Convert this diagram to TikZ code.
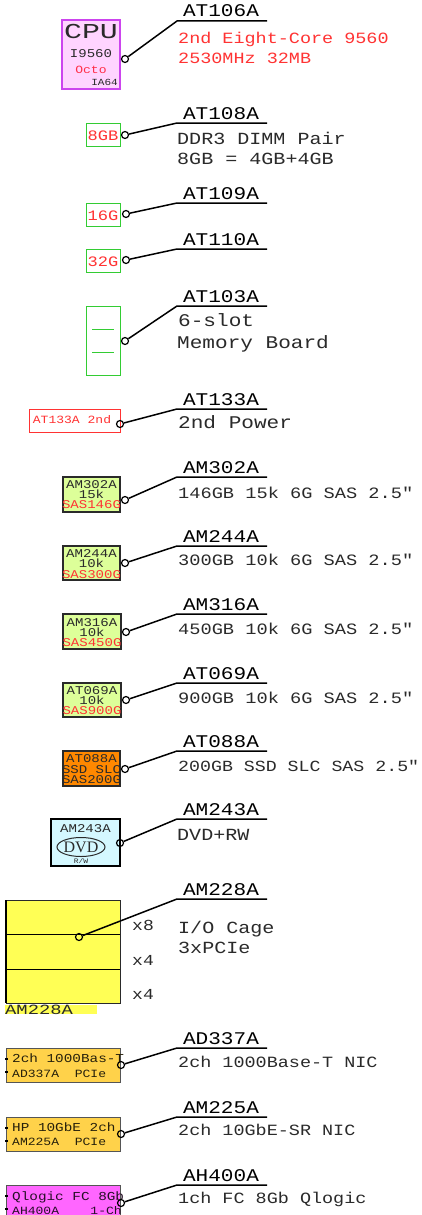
\documentclass[tikz,border=0pt]{standalone}
\usepackage{fontspec}
\setmonofont[FakeStretch=1.18]{Liberation Mono}
\renewcommand{\familydefault}{\ttdefault}
\newfontfamily\dvdfont{Liberation Serif}
\usetikzlibrary{shapes.geometric}
\newcommand{\fsz}[1]{\pgfmathsetmacro\myfs{#1*0.85}\fontsize{\myfs}{\myfs}\selectfont}
\definecolor{ink}{HTML}{2A2A2A}
\definecolor{redt}{HTML}{FF3333}
\definecolor{grn}{HTML}{33CC33}
\definecolor{cpub}{HTML}{CC44EE}
\definecolor{cpuf}{HTML}{FFD4FF}
\definecolor{drvf}{HTML}{DDFF99}
\definecolor{ssdf}{HTML}{FF8800}
\definecolor{dvdf}{HTML}{D4F8FF}
\definecolor{cagef}{HTML}{FFFF55}
\definecolor{nicf}{HTML}{FFD24A}
\definecolor{fcf}{HTML}{FF66FF}
\begin{document}
\begin{tikzpicture}[x=1pt,y=-1pt,
  title/.style={font=\fsz{21}, text=black, inner sep=0pt, anchor=base},
  desc/.style={font=\fsz{#1}, text=ink, inner sep=0pt, anchor=base west},
  bt/.style={font=\fsz{#1}, text=ink, inner sep=0pt, anchor=base},
  btw/.style={font=\fsz{#1}, text=ink, inner sep=0pt, anchor=base west},
  pin/.style={circle, draw=black, line width=1.2pt, minimum size=7pt, inner sep=0pt},
  conn/.style={draw=black, line width=1.5pt},
  gbox/.style={draw=grn, line width=1pt},
  dbox/.style={draw=ink, line width=1.2pt, fill=drvf},
  tick/.style={draw=black, line width=1.6pt}]
\useasboundingbox (0,0) rectangle (421,1215);
\fill[white] (0,0) rectangle (421,1215);

% ---------- boxes ----------
% CPU
\draw[draw=cpub, fill=cpuf, line width=2pt] (62,20) rectangle (120,89);
\node[bt=25] (cpu) at (91,38.5) {\scalebox{1.19}[1]{CPU}};
\node[bt=14] (cpua) at (91,57.5) {I9560};
\node[bt=13, text=redt!90!magenta] (cpub) at (91,73.2) {Octo};
\node[bt=11, anchor=base east] (cpuc) at (118,85.5) {IA64};
% memory
\draw[gbox] (86,123) rectangle (120,146);
\node[bt=17, text=redt] (m8) at (103,140.4) {8GB};
\draw[gbox] (86,203) rectangle (120,226);
\node[bt=17, text=redt] (m16) at (103,220.4) {16G};
\draw[gbox] (86,249) rectangle (120,272);
\node[bt=17, text=redt] (m32) at (103,266.4) {32G};
\draw[gbox] (86,306) rectangle (120,375);
\draw[gbox] (92,329) -- (114,329);
\draw[gbox] (92,352) -- (114,352);
% power
\draw[draw=redt, line width=1pt] (29,409) rectangle (120,432);
\node[bt=13, text=redt] (pw) at (72,423.2) {AT133A 2nd};
% drives
\draw[dbox] (63,477) rectangle (120,512);
\node[bt=14] (d1a) at (91.5,488.5) {AM302A};
\node[bt=14] (d1b) at (91.5,498.5) {15k};
\node[bt=14, text=redt] (d1c) at (91.5,508.5) {SAS146G};
\draw[dbox] (63,546) rectangle (120,580);
\node[bt=14] (d2a) at (91.5,557.5) {AM244A};
\node[bt=14] (d2b) at (91.5,567.5) {10k};
\node[bt=14, text=redt] (d2c) at (91.5,578) {SAS300G};
\draw[dbox] (63,614) rectangle (121,649);
\node[bt=14] (d3a) at (92,626.5) {AM316A};
\node[bt=14] (d3b) at (92,636.5) {10k};
\node[bt=14, text=redt] (d3c) at (92,646.5) {SAS450G};
\draw[dbox] (63,683) rectangle (121,717);
\node[bt=14] (d4a) at (92,694.5) {AT069A};
\node[bt=14] (d4b) at (92,704.5) {10k};
\node[bt=14, text=redt] (d4c) at (92,714.5) {SAS900G};
\draw[draw=ink, line width=1.2pt, fill=ssdf] (63,751) rectangle (120,786);
\node[bt=14] (s1a) at (91.5,762.5) {AT088A};
\node[bt=14] (s1b) at (91.5,773) {SSD SLC};
\node[bt=14] (s1c) at (91.5,783.5) {SAS200G};
% DVD
\draw[draw=black, line width=1.5pt, fill=dvdf] (51,819) rectangle (120,866);
\node[bt=14] (dvda) at (85.5,832.5) {AM243A};
\node[ellipse, draw=ink, line width=1pt, minimum width=48pt, minimum height=19pt, inner sep=0pt] (dvde) at (81,847) {};
\node[font=\dvdfont\fontsize{16}{16}\selectfont, text=ink, inner sep=0pt, anchor=base] (dvdb) at (81,852.5) {DVD};
\node[bt=8] (dvdc) at (81,863.5) {R/W};
% I/O cage
\draw[draw=ink, line width=1pt, fill=cagef] (6,900) rectangle (120,1003);
\draw[draw=black, line width=2.5pt] (6,900) -- (6,1003);
\draw[draw=black, line width=1pt] (6,934) -- (120,934);
\draw[draw=black, line width=1pt] (6,969) -- (120,969);
\node[btw=18] (x1) at (132,930.8) {x8};
\node[btw=18] (x2) at (132,965.8) {x4};
\node[btw=18] (x3) at (132,999.8) {x4};
\fill[cagef] (5,1005) rectangle (97,1014);
\node[btw=16.6] (cagel) at (5,1014) {\scalebox{1.13}[1]{AM228A}};
% NICs
\draw[draw=ink!80, line width=1pt, fill=nicf] (6,1048) rectangle (120,1082);
\draw[tick] (5,1059) -- (8,1059);
\draw[tick] (5,1072) -- (8,1072);
\node[btw=14.3, text=black!85!nicf] (n1a) at (12,1062.6) {2ch 1000Bas-T};
\node[btw=13, text=black!85!nicf] (n1b) at (12,1077.2) {AD337A~~PCIe};
\draw[draw=ink!80, line width=1pt, fill=nicf] (6,1117) rectangle (120,1151);
\draw[tick] (5,1128) -- (8,1128);
\draw[tick] (5,1141) -- (8,1141);
\node[btw=14.3, text=black!85!nicf] (n2a) at (12,1131.6) {HP 10GbE 2ch};
\node[btw=13, text=black!85!nicf] (n2b) at (12,1145.2) {AM225A~~PCIe};
\draw[draw=ink!80, line width=1pt, fill=fcf] (6,1185) rectangle (120,1225);
\draw[tick] (5,1196) -- (8,1196);
\draw[tick] (5,1209) -- (8,1209);
\node[btw=14.3, text=black!85!fcf] (n3a) at (12,1200.6) {Qlogic FC 8Gb};
\node[btw=13, text=black!85!fcf] (n3b) at (12,1214.2) {AH400A~~~~1-Ch};

% ---------- pins, connectors, labels ----------
\foreach \n/\cx/\cy/\ly/\t in {
  1/125/59/21/AT106A, 2/125/135/123/AT108A, 3/126/214/203/AT109A,
  4/126/260/249/AT110A, 5/125/341/306/AT103A, 6/120/424/409/AT133A,
  7/125/500/477/AM302A, 8/125/563/546/AM244A, 9/126/632/614/AM316A,
  10/126/700/683/AT069A, 11/125/769/751/AT088A, 12/120/843/819/AM243A,
  13/79/937/899/AM228A, 14/121/1065/1048/AD337A, 15/121/1134/1117/AM225A,
  16/121/1203/1185/AH400A}{
  \node[pin] (c\n) at (\cx,\cy) {};
  \coordinate (k\n) at (177,\ly);
  \coordinate (e\n) at (267,\ly);
  \draw[conn] (c\n) -- (k\n) -- (e\n);
  \node[title] (t\n) at (221,\ly-4) {\t};
}

% descriptions
\node[desc=18.4, text=redt] (a1) at (178,43.9) {2nd Eight-Core 9560};
\node[desc=18.4, text=redt] (a2) at (178,63.9) {2530MHz 32MB};
\node[desc=20] (b1) at (177,144.4) {DDR3 DIMM Pair};
\node[desc=20] (b2) at (177,164.4) {8GB = 4GB+4GB};
\node[desc=21] (f1) at (178,326.7) {6-slot};
\node[desc=21] (f2) at (177,348.7) {Memory Board};
\node[desc=21] (g1) at (178,428.7) {2nd Power};
\node[desc=18.6] (h1) at (178,498) {146GB 15k 6G SAS 2.5"};
\node[desc=18.6] (h2) at (178,565) {300GB 10k 6G SAS 2.5"};
\node[desc=18.6] (h3) at (178,634) {450GB 10k 6G SAS 2.5"};
\node[desc=18.6] (h4) at (178,703) {900GB 10k 6G SAS 2.5"};
\node[desc=18.2] (h5) at (178,771) {200GB SSD SLC SAS 2.5"};
\node[desc=20] (i1) at (177,840.4) {DVD+RW};
\node[desc=20] (j1) at (178,933.4) {I/O Cage};
\node[desc=20] (j2) at (178,953.4) {3xPCIe};
\node[desc=18.4] (l1) at (178,1067.9) {2ch 1000Base-T NIC};
\node[desc=18.4] (l2) at (178,1135.9) {2ch 10GbE-SR NIC};
\node[desc=18.4] (l3) at (178,1203.9) {1ch FC 8Gb Qlogic};
\end{tikzpicture}
\end{document}
